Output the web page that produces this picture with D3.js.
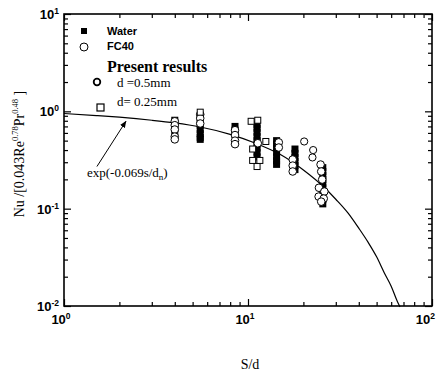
<!DOCTYPE html>
<html><head><meta charset="utf-8">
<script src="https://cdn.jsdelivr.net/npm/d3@7"></script>
<style>body{margin:0;background:#fff}svg{display:block}</style>
</head><body><svg id="c" width="436" height="374"></svg>
<script>
// ---- data ----
const waterX = [4,4,4,4, 5.5,5.5,5.5,5.5,5.5,5.5,5.5, 8.5,8.5,8.5, 11.2,11.2,11.2,11.2,11.2,11.2,11.2,11.2,11.2, 14.3,14.3,14.3,14.3,14.3,14.3,14.3, 18,18,18,18,18,18, 25.5,25.5,25.5,25.5,25.5,25.5,25.5,25.5,25.5,25.5];
const waterY = [0.81,0.73,0.67,0.61, 0.87,0.79,0.72,0.65,0.59,0.54,0.515, 0.70,0.64,0.58, 0.73,0.67,0.61,0.55,0.50,0.46,0.42,0.38,0.34, 0.50,0.46,0.42,0.38,0.34,0.31,0.285, 0.41,0.37,0.335,0.305,0.277,0.252, 0.264,0.241,0.219,0.199,0.181,0.164,0.150,0.136,0.124,0.112];
const fc40X = [4,4,4,4,4, 5.5,5.5,5.5, 8.5,8.5,8.5,8.5, 11.3, 14.7,14.7, 17.5,17.5,17.5, 24.8,25,25.3,24.3,26,24.2,25.8,25];
const fc40Y = [0.79,0.72,0.65,0.55,0.515, 0.93,0.85,0.75, 0.64,0.57,0.50,0.46, 0.47, 0.48,0.425, 0.32,0.277,0.241, 0.284,0.241,0.199,0.164,0.150,0.133,0.127,0.118];
const d05X = [20.2,22.6,22.4];
const d05Y = [0.49,0.40,0.336];
const d025X = [5.5,10.4,11.3,12.5,10.6,10.6,11.6,11.2];
const d025Y = [0.98,0.79,0.81,0.49,0.41,0.313,0.313,0.271];
const curveX = [1,1.5,2,3,4,5.5,8,11,15,20,26,30,35,40,45,50,55,60,65,67];
const curveY = [0.95,0.905,0.87,0.81,0.76,0.69,0.58,0.47,0.36,0.25,0.165,0.125,0.09,0.063,0.045,0.032,0.022,0.016,0.011,0.0098];
const xTickVals = [1,10,100];
const xTickExp = ["0","1","2"];
const yTickVals = [0.01,0.1,1,10];
const yTickExp = ["-2","-1","0","1"];
const legendLabels = ["Water","FC40"];
const presentLabels = ["d =0.5mm","d= 0.25mm"];
const arrowFrom = [1.51,0.271], arrowTo = [2.17,0.79];

// ---- drawing ----
const svg = d3.select("#c");
const L=64,R=432,T=14,B=306;
const x = d3.scaleLog().domain([1,100]).range([L,R]);
const y = d3.scaleLog().domain([0.01,10]).range([B,T]);

const minorX=[], minorY=[];
for (const base of [1,10]) for (let k=2;k<=9;k++) minorX.push(base*k);
for (const base of [0.01,0.1,1]) for (let k=2;k<=9;k++) minorY.push(base*k);

function axisDraw(gen, tr, vals, size){
  svg.append("g").attr("transform",tr).call(gen.tickValues(vals).tickSize(size).tickFormat(""))
    .call(g=>{g.select(".domain").remove(); g.selectAll("line").attr("stroke","#000").attr("stroke-width",1.2);});
}
axisDraw(d3.axisBottom(x), `translate(0,${B})`, xTickVals, -7);
axisDraw(d3.axisBottom(x), `translate(0,${B})`, minorX, -4);
axisDraw(d3.axisTop(x), `translate(0,${T})`, xTickVals, -7);
axisDraw(d3.axisTop(x), `translate(0,${T})`, minorX, -4);
axisDraw(d3.axisLeft(y), `translate(${L},0)`, yTickVals, -7);
axisDraw(d3.axisLeft(y), `translate(${L},0)`, minorY, -4);
axisDraw(d3.axisRight(y), `translate(${R},0)`, yTickVals, -7);
axisDraw(d3.axisRight(y), `translate(${R},0)`, minorY, -4);
svg.append("rect").attr("x",L).attr("y",T).attr("width",R-L).attr("height",B-T)
  .attr("fill","none").attr("stroke","#000").attr("stroke-width",1.6);

// tick labels
xTickVals.forEach((v,i)=>{
  const last = i===xTickVals.length-1;
  const t=svg.append("text").attr("x",last?435:x(v)-3).attr("y",B+18).attr("text-anchor",last?"end":"middle")
    .attr("font-family","Liberation Sans, Arial").attr("font-weight","bold").attr("font-size",13);
  t.append("tspan").text("10");
  t.append("tspan").attr("dy",-5).attr("font-size",8.5).text(xTickExp[i]);
});
yTickVals.forEach((v,i)=>{
  const t=svg.append("text").attr("x",L-5).attr("y",y(v)+5).attr("text-anchor","end")
    .attr("font-family","Liberation Sans, Arial").attr("font-weight","bold").attr("font-size",13);
  t.append("tspan").text("10");
  t.append("tspan").attr("dy",-5).attr("font-size",8.5).text(yTickExp[i]);
});

// axis titles
svg.append("text").attr("x",250).attr("y",369).attr("text-anchor","middle")
  .attr("font-family","Liberation Serif, Times New Roman").attr("font-size",14).text("S/d");
const yl=svg.append("text").attr("transform","translate(24,154) rotate(-90)").attr("text-anchor","middle")
  .attr("font-family","Liberation Serif, Times New Roman").attr("font-size",14);
yl.append("tspan").text("Nu /[0.043Re");
yl.append("tspan").attr("dy",-6).attr("font-size",8.5).text("0.78");
yl.append("tspan").attr("dy",6).text("Pr");
yl.append("tspan").attr("dy",-6).attr("font-size",8.5).text("0.48");
yl.append("tspan").attr("dy",6).text(" ]");

// curve
const line = d3.line().x((d,i)=>x(curveX[i])).y((d,i)=>y(curveY[i])).curve(d3.curveMonotoneX);
svg.append("path").datum(curveX).attr("d",line).attr("fill","none").attr("stroke","#000").attr("stroke-width",1.2);

// markers
const S=7;
svg.append("g").selectAll("rect").data(waterX).join("rect")
  .attr("x",(d,i)=>x(d)-S/2).attr("y",(d,i)=>y(waterY[i])-S/2).attr("width",S).attr("height",S).attr("fill","#000");
svg.append("g").selectAll("circle").data(fc40X).join("circle")
  .attr("cx",d=>x(d)).attr("cy",(d,i)=>y(fc40Y[i])).attr("r",3.8).attr("fill","#fff").attr("stroke","#000").attr("stroke-width",1);
svg.append("g").selectAll("circle").data(d05X).join("circle")
  .attr("cx",d=>x(d)).attr("cy",(d,i)=>y(d05Y[i])).attr("r",3.6).attr("fill","#fff").attr("stroke","#000").attr("stroke-width",1);
svg.append("g").selectAll("rect").data(d025X).join("rect")
  .attr("x",d=>x(d)-3).attr("y",(d,i)=>y(d025Y[i])-3).attr("width",6).attr("height",6).attr("fill","#fff").attr("stroke","#000").attr("stroke-width",1);

// legend
svg.append("rect").attr("x",81).attr("y",28).attr("width",6).attr("height",6).attr("fill","#000");
svg.append("circle").attr("cx",84).attr("cy",47).attr("r",4).attr("fill","#fff").attr("stroke","#000");
legendLabels.forEach((s,i)=>svg.append("text").attr("x",107).attr("y",35+i*15)
  .attr("font-family","Liberation Sans, Arial").attr("font-weight","bold").attr("font-size",11).text(s));
svg.append("text").attr("x",107).attr("y",72).attr("font-family","Liberation Serif, Times New Roman")
  .attr("font-weight","bold").attr("font-size",16).text("Present results");
svg.append("circle").attr("cx",97).attr("cy",82).attr("r",3.3).attr("fill","#fff").attr("stroke","#000").attr("stroke-width",1.8);
svg.append("rect").attr("x",97).attr("y",104).attr("width",7).attr("height",7).attr("fill","#fff").attr("stroke","#000").attr("stroke-width",1.2);
presentLabels.forEach((s,i)=>svg.append("text").attr("x",117).attr("y",87+i*19)
  .attr("font-family","Liberation Serif, Times New Roman").attr("font-size",13).text(s));

// annotation
svg.append("defs").append("marker").attr("id","ah").attr("viewBox","0 0 10 10").attr("refX",9).attr("refY",5)
  .attr("markerWidth",7).attr("markerHeight",7).attr("orient","auto")
  .append("path").attr("d","M0,1 L10,5 L0,9 z").attr("fill","#000");
svg.append("line").attr("x1",x(arrowFrom[0])).attr("y1",y(arrowFrom[1])).attr("x2",x(arrowTo[0])).attr("y2",y(arrowTo[1]))
  .attr("stroke","#000").attr("stroke-width",1).attr("marker-end","url(#ah)");
const at=svg.append("text").attr("x",87).attr("y",177).attr("font-family","Liberation Serif, Times New Roman").attr("font-size",13);
at.append("tspan").text("exp(-0.069s/d");
at.append("tspan").attr("dy",3).attr("font-size",9).text("n");
at.append("tspan").attr("dy",-3).text(")");
</script></body></html>
